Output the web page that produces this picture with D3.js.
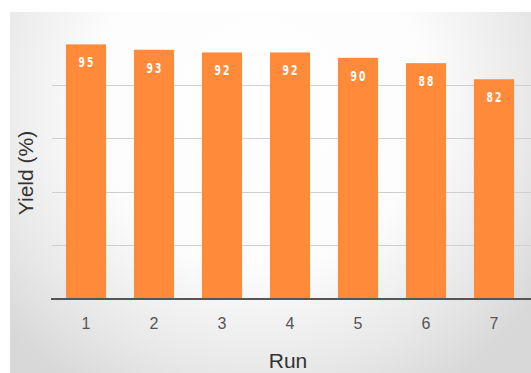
<!DOCTYPE html>
<html>
<head>
<meta charset="utf-8">
<script src="https://cdn.jsdelivr.net/npm/d3@7"></script>
<style>
  html, body { margin: 0; padding: 0; background: #fff; }
  svg { display: block; }
</style>
</head>
<body>
<svg id="chart" width="531" height="373"></svg>
<script>
// Yield per run
const runs = ["1", "2", "3", "4", "5", "6", "7"];
const yields = [95, 93, 92, 92, 90, 88, 82];
const yTicks = [20, 40, 60, 80];

const W = 531, H = 373;
const margin = { left: 52, right: 4, top: 31, bottom: 74 };
const svg = d3.select("#chart");

// soft grey panel, brighter toward the upper middle
const defs = svg.append("defs");
const grad = defs.append("radialGradient")
  .attr("id", "panelGrad")
  .attr("gradientUnits", "userSpaceOnUse")
  .attr("cx", 260).attr("cy", 100).attr("r", 340);
grad.append("stop").attr("offset", "0%").attr("stop-color", "#ffffff");
grad.append("stop").attr("offset", "50%").attr("stop-color", "#fcfcfc");
grad.append("stop").attr("offset", "80%").attr("stop-color", "#e8e8e8");
grad.append("stop").attr("offset", "100%").attr("stop-color", "#d8d8d8");

svg.append("rect")
  .attr("x", 10).attr("y", 12)
  .attr("width", W - 10).attr("height", H - 12)
  .attr("fill", "url(#panelGrad)");

const x = d3.scaleBand()
  .domain(runs)
  .range([margin.left, W - margin.right + 1])
  .paddingInner(0.41)
  .paddingOuter(0.205);

const y = d3.scaleLinear()
  .domain([0, 100])
  .range([H - margin.bottom, margin.top]);

// horizontal gridlines
svg.append("g")
  .selectAll("line")
  .data(yTicks)
  .join("line")
  .attr("x1", margin.left)
  .attr("x2", W)
  .attr("y1", d => Math.round(y(d)) + 0.5)
  .attr("y2", d => Math.round(y(d)) + 0.5)
  .attr("stroke", "#cfcfcf")
  .attr("stroke-width", 1);

// bars
svg.append("g")
  .selectAll("rect")
  .data(yields)
  .join("rect")
  .attr("x", (d, i) => x(runs[i]))
  .attr("y", d => y(d))
  .attr("width", x.bandwidth())
  .attr("height", d => y(0) - y(d))
  .attr("fill", "#ff8b3a");

// value labels inside the bar tops (tall, narrow digits)
svg.append("g")
  .selectAll("text")
  .data(yields)
  .join("text")
  .attr("transform", (d, i) =>
    `translate(${x(runs[i]) + x.bandwidth() / 2 + 1},${y(d) + 23}) scale(0.85,1.15)`)
  .attr("text-anchor", "middle")
  .attr("fill", "#ffffff")
  .attr("font-family", "DejaVu Sans Condensed, DejaVu Sans, sans-serif")
  .attr("font-weight", "bold")
  .attr("font-size", 12)
  .attr("letter-spacing", 2.5)
  .text(d => d);

// x axis
const xAxis = svg.append("g")
  .attr("transform", `translate(0,${y(0)})`)
  .call(d3.axisBottom(x).tickSize(0).tickPadding(19));
xAxis.select(".domain")
  .attr("d", `M${margin.left - 1},0H${W}`)
  .attr("stroke", "#555555")
  .attr("stroke-width", 2);
xAxis.selectAll("text")
  .attr("fill", "#555555")
  .attr("font-family", "Liberation Sans, Arial, sans-serif")
  .attr("font-size", 16);

// axis titles
svg.append("text")
  .attr("x", x("4") + x.bandwidth() / 2 - 2)
  .attr("y", 368)
  .attr("text-anchor", "middle")
  .attr("fill", "#333333")
  .attr("font-family", "Liberation Sans, Arial, sans-serif")
  .attr("font-size", 21)
  .text("Run");

svg.append("text")
  .attr("transform", `translate(33,${173}) rotate(-90)`)
  .attr("text-anchor", "middle")
  .attr("fill", "#333333")
  .attr("font-family", "Liberation Sans, Arial, sans-serif")
  .attr("font-size", 21)
  .text("Yield (%)");
</script>
</body>
</html>
